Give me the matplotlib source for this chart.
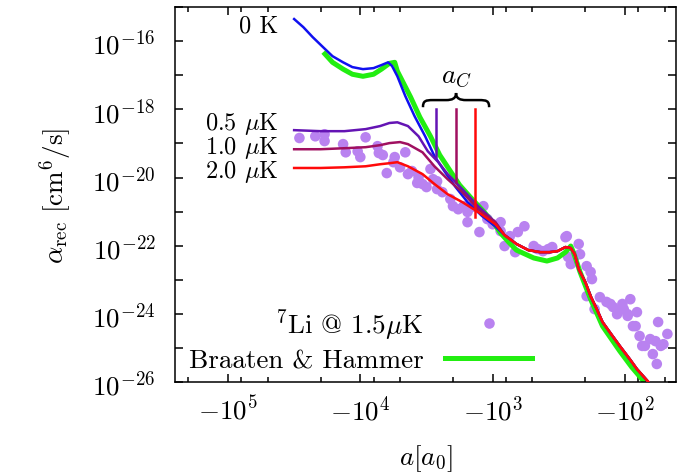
import numpy as np
import matplotlib
matplotlib.use("Agg")
import matplotlib.pyplot as plt
from matplotlib.path import Path
from matplotlib.patches import PathPatch
from matplotlib.lines import Line2D

plt.rcParams['mathtext.fontset'] = 'cm'
plt.rcParams['font.family'] = ['cmr10', 'DejaVu Serif']

# values, stored as log10|a| and log10(alpha_rec)
li_loga = [4.46, 4.34, 4.27, 4.27, 4.13, 4.11, 4.02, 4.00, 3.96, 3.87, 3.86, 3.83,
           3.74, 3.75, 3.66, 3.70, 3.80, 3.64, 3.61, 3.57, 3.56, 3.53, 3.50, 3.47,
           3.45, 3.42, 3.42, 3.38, 3.32, 3.30, 3.26, 3.22, 3.19, 3.19, 3.16, 3.10,
           3.07, 3.04, 3.00, 2.94, 2.94, 2.91, 2.87, 2.83, 2.81, 2.76, 2.69, 2.66,
           2.62, 2.58, 2.55, 2.45, 2.44, 2.43, 2.41, 2.38, 2.35, 2.34, 2.29, 2.26,
           2.25, 2.29, 2.23, 2.19, 2.14, 2.11, 2.09, 2.06, 2.05, 2.02, 2.01, 1.98,
           1.98, 1.96, 1.94, 1.92, 1.91, 1.89, 1.87, 1.85, 1.81, 1.79, 1.77, 1.76,
           1.75, 1.73, 1.71, 1.68]
li_logrec = [-18.84, -18.79, -18.73, -18.93, -19.02, -19.26, -19.23, -19.40, -18.82, -19.08, -19.28, -19.34,
             -19.40, -19.55, -19.26, -19.70, -19.87, -19.90, -19.81, -20.16, -19.99, -20.19, -20.28, -19.75,
             -20.05, -20.11, -20.34, -20.43, -20.63, -20.84, -20.93, -20.84, -21.01, -21.31, -20.87, -21.60,
             -20.84, -21.22, -21.37, -21.31, -21.57, -22.01, -21.72, -22.19, -21.60, -21.43, -22.01, -22.10,
             -22.16, -22.10, -22.04, -21.75, -21.72, -22.33, -22.54, -22.31, -21.95, -22.25, -22.60, -22.77,
             -22.98, -23.48, -23.86, -23.51, -23.65, -23.71, -23.80, -24.01, -23.92, -23.71, -23.86, -24.06,
             -24.01, -23.57, -24.36, -24.36, -23.95, -24.65, -24.94, -24.94, -24.74, -25.18, -24.80, -25.47,
             -24.24, -24.94, -24.89, -24.59]

# tail shared by the 0 K and finite temperature curves
tail_loga = [2.91, 2.82, 2.73, 2.64, 2.57, 2.51, 2.45, 2.41, 2.38, 2.35, 2.30, 2.26,
             2.21, 2.17, 2.10, 2.04, 1.96, 1.91, 1.83, 1.77]
tail_logrec = [-21.69, -21.95, -22.13, -22.19, -22.19, -22.16, -22.04, -22.07, -22.25, -22.69, -23.07, -23.48,
               -23.89, -24.24, -24.62, -24.94, -25.35, -25.62, -25.97, -26.26]

t0_loga = [4.50, 4.43, 4.36, 4.28, 4.21, 4.13, 4.06, 3.98, 3.90, 3.84, 3.79, 3.76, 3.72, 3.66,
           3.59, 3.51, 3.44, 3.36, 3.28, 3.19, 3.08, 2.98] + tail_loga
t0_logrec = [-15.35, -15.59, -15.88, -16.18, -16.44, -16.62, -16.76, -16.82, -16.79, -16.70, -16.62, -16.73,
             -17.03, -17.61, -18.20, -18.79, -19.37, -19.84, -20.28, -20.72, -21.13, -21.43] + tail_logrec

t05_loga = [4.50, 4.30, 4.12, 3.96, 3.85, 3.78, 3.72, 3.64, 3.56, 3.49, 3.41, 3.34, 3.23, 3.11, 2.98] + tail_loga
t05_logrec = [-18.61, -18.64, -18.64, -18.58, -18.49, -18.40, -18.38, -18.49, -18.79, -19.23, -19.55,
              -19.90, -20.34, -20.84, -21.31] + tail_logrec

t10_loga = [4.50, 4.30, 4.12, 3.96, 3.85, 3.78, 3.70, 3.64, 3.53, 3.44, 3.34, 3.23, 3.11, 2.98] + tail_loga
t10_logrec = [-19.17, -19.17, -19.14, -19.11, -19.05, -18.99, -18.96, -19.02, -19.26, -19.67, -20.05,
              -20.43, -20.93, -21.31] + tail_logrec

t20_loga = [4.50, 4.30, 4.12, 3.96, 3.85, 3.78, 3.72, 3.64, 3.53, 3.44, 3.34, 3.23, 3.11, 2.98] + tail_loga
t20_logrec = [-19.72, -19.72, -19.70, -19.67, -19.61, -19.58, -19.55, -19.67, -19.90, -20.19, -20.49,
              -20.72, -21.01, -21.37] + tail_logrec

bh_loga = [4.28, 4.21, 4.13, 4.06, 3.98, 3.90, 3.84, 3.78, 3.74, 3.72, 3.62, 3.55, 3.47, 3.40, 3.32,
           3.25, 3.17, 3.07, 2.98, 2.94, 2.88, 2.82, 2.69, 2.59, 2.51, 2.45, 2.41, 2.39, 2.34, 2.26,
           2.17, 2.04, 1.95, 1.86, 1.81]
bh_logrec = [-16.32, -16.62, -16.82, -16.97, -17.03, -16.97, -16.82, -16.65, -16.62, -16.88, -17.64, -18.23,
             -18.79, -19.34, -19.81, -20.22, -20.57, -20.99, -21.40, -21.63, -21.89, -22.13, -22.36, -22.45,
             -22.36, -22.19, -22.01, -22.19, -22.77, -23.57, -24.36, -25.09, -25.56, -25.97, -26.26]

# critical scattering lengths a_C for 0.5, 1.0, 2.0 uK
ac_loga = [3.43, 3.28, 3.13]
ac_logrec_low = [-19.40, -20.13, -21.16]
ac_logrec_top = -18.0

temp_labels = ['0 K', r'0.5 $\mu$K', r'1.0 $\mu$K', r'2.0 $\mu$K']
temp_colors = ['#1010f0', '#6414b4', '#a01060', '#ff0a0a']
# label baselines (axes fraction)
label_y = [0.936, 0.675, 0.611, 0.547]

xtick_exp = [5, 4, 3, 2]
ytick_exp = list(range(-26, -14))

fs = 19.5
fig = plt.figure(figsize=(6.77, 4.77), dpi=100)
ax = fig.add_axes([0.2585, 0.197, 0.740, 0.786])

def pw(v):
    return 10.0 ** np.asarray(v)

ax.scatter(pw(li_loga), pw(li_logrec), s=58, color='#b982f0', edgecolors='none', zorder=1)
ax.plot(pw(bh_loga), pw(bh_logrec), color='#22ee11', lw=3.6, zorder=2, solid_capstyle='butt')

curves = [(t0_loga, t0_logrec), (t05_loga, t05_logrec), (t10_loga, t10_logrec), (t20_loga, t20_logrec)]
for (la, lr), c, lab, ly in zip(curves, temp_colors, temp_labels, label_y):
    ax.plot(pw(la), pw(lr), color=c, lw=1.8, zorder=3)
    ax.text(0.206, ly, lab, transform=ax.transAxes, ha='right', va='baseline', fontsize=17.5)

for la, lo, c in zip(ac_loga, ac_logrec_low, temp_colors[1:]):
    ax.plot([pw(la), pw(la)], [pw(lo), pw(ac_logrec_top)], color=c, lw=1.8, zorder=3)

# curly brace over the a_C markers (axes fraction)
verts = [(0.495, 0.733), (0.495, 0.750), (0.500, 0.752), (0.515, 0.752),
         (0.541, 0.752), (0.553, 0.752), (0.561, 0.756), (0.561, 0.771),
         (0.561, 0.756), (0.569, 0.752), (0.581, 0.752),
         (0.607, 0.752), (0.622, 0.752), (0.627, 0.750), (0.627, 0.733)]
codes = [Path.MOVETO, Path.CURVE4, Path.CURVE4, Path.CURVE4,
         Path.LINETO, Path.CURVE4, Path.CURVE4, Path.CURVE4,
         Path.CURVE4, Path.CURVE4, Path.CURVE4,
         Path.LINETO, Path.CURVE4, Path.CURVE4, Path.CURVE4]
ax.add_patch(PathPatch(Path(verts, codes), transform=ax.transAxes, fill=False, lw=1.8, color='black'))
ax.text(0.561, 0.816, r'$a_C$', transform=ax.transAxes, ha='center', va='center', fontsize=fs)

ax.set_xscale('log')
ax.set_yscale('log')
ax.set_xlim(10 ** 5.4, 10 ** 1.615)
ax.set_ylim(1e-26, 1e-15)

ax.set_xticks(pw(xtick_exp))
ax.set_xticklabels([r'$-10^{%d}$' % e for e in xtick_exp])
ax.set_xticks([10.0 ** (k - f) for k in [6, 5, 4, 3, 2] for f in [0.1, 0.3, 0.7]
               if 1.615 < k - f < 5.4], minor=True)
ax.set_xticklabels([], minor=True)
ax.set_yticks(pw(ytick_exp))
ax.set_yticklabels([r'$10^{%d}$' % e if e % 2 == 0 else '' for e in ytick_exp])
ax.yaxis.set_minor_locator(matplotlib.ticker.NullLocator())

ax.tick_params(which='both', direction='in', top=True, right=True, width=1.1, labelsize=fs)
ax.tick_params(which='major', length=6)
ax.tick_params(which='minor', length=3.5)
ax.tick_params(axis='x', pad=9)
ax.tick_params(axis='y', pad=14)
for sp in ax.spines.values():
    sp.set_linewidth(1.1)

ax.set_xlabel(r'$a[a_0]$', fontsize=fs, labelpad=13)
ax.set_ylabel(r'$\alpha_{\rm rec}\ [{\rm cm}^6/{\rm s}]$', fontsize=fs, labelpad=13)

h1 = Line2D([], [], ls='none', marker='o', ms=7.6, mfc='#b982f0', mec='none')
h2 = Line2D([], [], color='#22ee11', lw=3.6)
ax.legend([h1, h2], [r'$^7$Li @ 1.5$\mu$K', 'Braaten & Hammer'],
          loc='lower right', bbox_to_anchor=(0.7126, 0.025), markerfirst=False, frameon=False,
          fontsize=fs, handlelength=3.2, handletextpad=0.8, labelspacing=0.25,
          borderpad=0, borderaxespad=0)

fig.savefig('out.png', dpi=100)
